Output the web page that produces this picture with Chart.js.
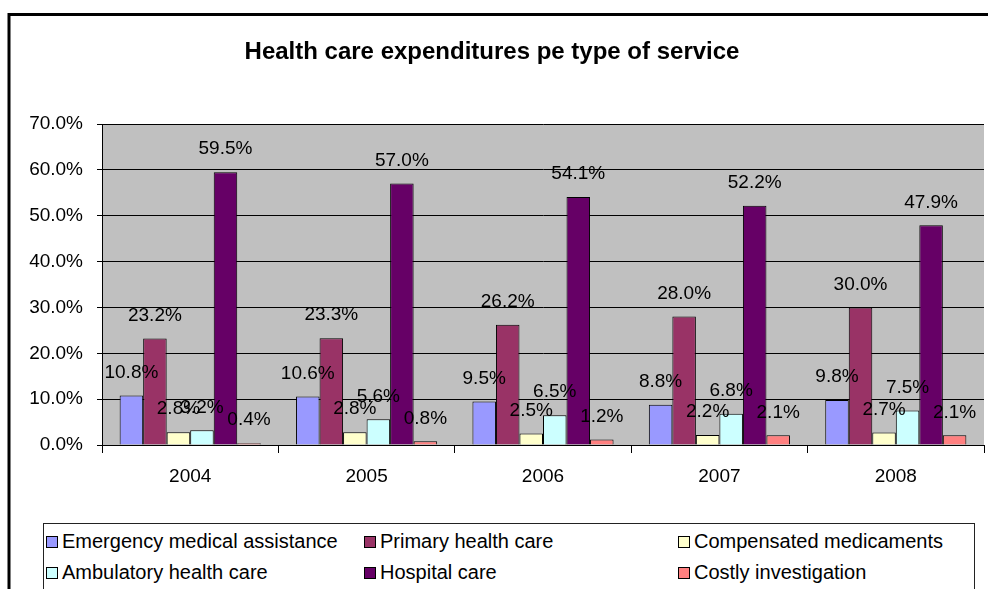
<!DOCTYPE html>
<html>
<head>
<meta charset="utf-8">
<script src="https://cdn.jsdelivr.net/npm/chart.js@4/dist/chart.umd.min.js"></script>
<style>
    body { margin: 0; background: #fff; overflow: hidden; }
    #wrap { position: relative; width: 988px; height: 589px; }
    #legend {
        position: absolute; left: 43px; top: 523px; width: 930px; height: 90px;
        border: 1px solid #222; background: #fff;
        font-family: "Liberation Sans", Arial, sans-serif; font-size: 20px; color: #000;
    }
    .item { position: absolute; display: flex; align-items: center; white-space: nowrap; }
    .item span.box { width: 10px; height: 10px; border: 1px solid #000; margin-right: 4px; }
</style>
</head>
<body>
<div id="wrap">
    <canvas id="serviceChart" width="988" height="589"></canvas>
    <div id="legend"></div>
</div>
<script>
const years = ['2004', '2005', '2006', '2007', '2008'];
const serviceNames = ['Emergency medical assistance', 'Primary health care', 'Compensated medicaments',
    'Ambulatory health care', 'Hospital care', 'Costly investigation'];
const emergencyCare = [10.8, 10.6, 9.5, 8.8, 9.8];
const primaryCare = [23.2, 23.3, 26.2, 28.0, 30.0];
const medicaments = [2.8, 2.8, 2.5, 2.2, 2.7];
const ambulatoryCare = [3.2, 5.6, 6.5, 6.8, 7.5];
const hospitalCare = [59.5, 57.0, 54.1, 52.2, 47.9];
const costlyInvestigation = [0.4, 0.8, 1.2, 2.1, 2.1];
const yTicks = [0, 10, 20, 30, 40, 50, 60, 70];

const seriesValues = [emergencyCare, primaryCare, medicaments, ambulatoryCare, hospitalCare, costlyInvestigation];
const seriesColors = ['#9999FF', '#993366', '#FFFFCC', '#CCFFFF', '#660066', '#FF8080'];

const FONT = '"Liberation Sans", Arial, sans-serif';

// white page, thick outer frame and the grey plot area
const backdrop = {
    id: 'backdrop',
    beforeDraw(chart) {
        const { ctx, chartArea } = chart;
        ctx.save();
        ctx.fillStyle = '#fff';
        ctx.fillRect(0, 0, chart.width, chart.height);
        ctx.lineWidth = 3;
        ctx.strokeStyle = '#000';
        ctx.strokeRect(9, 14.5, 1100, 1100);
        ctx.fillStyle = '#C0C0C0';
        ctx.fillRect(chartArea.left, chartArea.top, chartArea.right - chartArea.left, chartArea.bottom - chartArea.top);
        ctx.restore();
    }
};

// percentage above every bar
const valueLabels = {
    id: 'valueLabels',
    afterDatasetsDraw(chart) {
        const { ctx } = chart;
        ctx.save();
        ctx.font = '19px ' + FONT;
        ctx.fillStyle = '#000';
        ctx.textAlign = 'center';
        ctx.textBaseline = 'middle';
        chart.data.datasets.forEach((ds, i) => {
            chart.getDatasetMeta(i).data.forEach((bar, j) => {
                ctx.fillText(ds.data[j].toFixed(1) + '%', bar.x, bar.y - 23);
            });
        });
        ctx.restore();
    }
};

const ctx = document.getElementById('serviceChart').getContext('2d');
const serviceChart = new Chart(ctx, {
    type: 'bar',
    data: {
        labels: years,
        datasets: serviceNames.map((name, i) => ({
            label: name,
            data: seriesValues[i],
            backgroundColor: seriesColors[i],
            borderColor: '#000',
            borderWidth: 1,
            categoryPercentage: 0.8,
            barPercentage: 1.0
        }))
    },
    options: {
        responsive: false,
        animation: false,
        layout: { padding: { left: 0, right: 4, top: 0, bottom: 94 } },
        plugins: {
            legend: { display: false },
            tooltip: { enabled: false },
            title: {
                display: true,
                text: 'Health care expenditures pe type of service',
                color: '#000',
                font: { family: FONT, size: 24, weight: 'bold', lineHeight: 1.2 },
                padding: { top: 38, bottom: 57.2 }
            }
        },
        scales: {
            x: {
                afterFit: s => { s.height = 50; },
                grid: { drawOnChartArea: false, color: '#000', tickLength: 8 },
                border: { color: '#000' },
                ticks: { color: '#000', font: { family: FONT, size: 19 }, padding: 12 }
            },
            y: {
                min: 0,
                max: yTicks[yTicks.length - 1],
                afterFit: s => { s.width = 102; },
                afterBuildTicks: s => { s.ticks = yTicks.map(v => ({ value: v })); },
                grid: { color: '#000', tickLength: 5 },
                border: { color: '#000' },
                ticks: {
                    color: '#000',
                    font: { family: FONT, size: 19 },
                    padding: 14,
                    callback: v => v.toFixed(1) + '%'
                }
            }
        }
    },
    plugins: [backdrop, valueLabels]
});

// three-column legend box under the chart
const legendPos = [[2, 18], [320, 18], [634, 18], [2, 49], [320, 49], [634, 49]];
const legendEl = document.getElementById('legend');
serviceChart.data.datasets.forEach((ds, i) => {
    const item = document.createElement('div');
    item.className = 'item';
    item.style.left = legendPos[i][0] + 'px';
    item.style.top = (legendPos[i][1] - 12) + 'px';
    item.innerHTML = '<span class="box" style="background:' + ds.backgroundColor + '"></span>' + ds.label;
    legendEl.appendChild(item);
});
</script>
</body>
</html>
